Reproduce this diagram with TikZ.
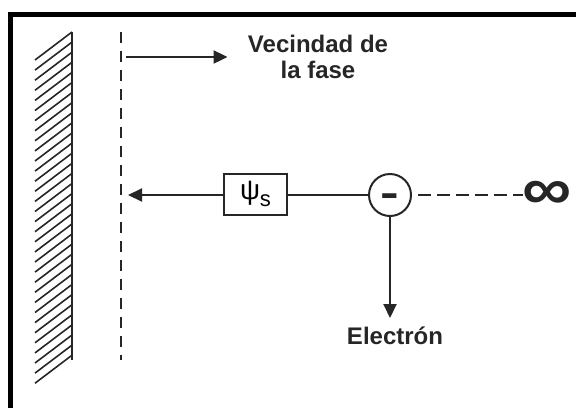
\documentclass[tikz,border=0pt]{standalone}
\usepackage{fontspec}
\setmainfont{Liberation Sans}
\usetikzlibrary{arrows.meta,positioning}
\definecolor{ink}{HTML}{262626}

\begin{document}
\begin{tikzpicture}[x=0.5pt,y=-0.5pt,
  line/.style={ink,line width=1pt},
  tip/.style={-{Triangle[length=7pt,width=6.5pt]}},
  lbl/.style={font=\fontsize{12}{13}\selectfont\bfseries,text=ink,inner sep=0pt}]
  \useasboundingbox (0,0) rectangle (576,408);

  % Outer frame (only top and left fall on the page)
  \draw[black,line width=2.5pt] (576,14.5) -- (10.5,14.5) -- (10.5,408);

  % Wall with hatching
  \draw[line] (72,32) -- (72,360);
  \foreach \k in {0,...,32} {
    \draw[ink,line width=0.8pt] (72,32+10.1*\k) -- (35,60+10.1*\k);
  }

  % Phase boundary
  \draw[ink,line width=1.3pt,dash pattern=on 5.5pt off 4pt] (121,32) -- (121,360);
  \coordinate (wtop) at (126,57);
  \coordinate (wmid) at (128,195);

  % Label and arrow on top
  \node[lbl,align=center,anchor=north] (vecindad) at (318,35) {Vecindad de\\la fase};
  \draw[line,tip] (wtop) -- ([xshift=-10pt]vecindad.west |- wtop);

  % Potential box, electron, infinity
  \node[draw=ink,line width=1pt,minimum width=31.5pt,minimum height=20.5pt,inner sep=0pt] (psi) at (255.5,194)
    {{\fontsize{14}{14}\selectfont ψ}\raisebox{-3.5pt}{\fontsize{11}{11}\selectfont s}};
  \node[circle,draw=ink,line width=1pt,minimum size=21pt,lbl,font=\fontsize{20}{20}\selectfont\bfseries,
    text height=11.6pt,text depth=0pt] (elec) at (390,195) {\scalebox{1.4}[1]{-}};
  \node[lbl,font=\fontsize{30}{30}\selectfont\bfseries] (inf) at (547.5,195) {\scalebox{1.15}[1]{∞}};

  \draw[line,tip] (psi.west |- wmid) -- (wmid);
  \draw[line] (psi.east |- elec) -- (elec);
  \draw[line,dash pattern=on 6.5pt off 3pt] ([xshift=3pt]elec.east) -- (inf.west);

  % Electron label
  \coordinate (etip) at (390,318);
  \node[lbl,anchor=base] (electron) at (395,344) {Electrón};
  \draw[line,tip] (elec) -- (etip);
\end{tikzpicture}
\end{document}
